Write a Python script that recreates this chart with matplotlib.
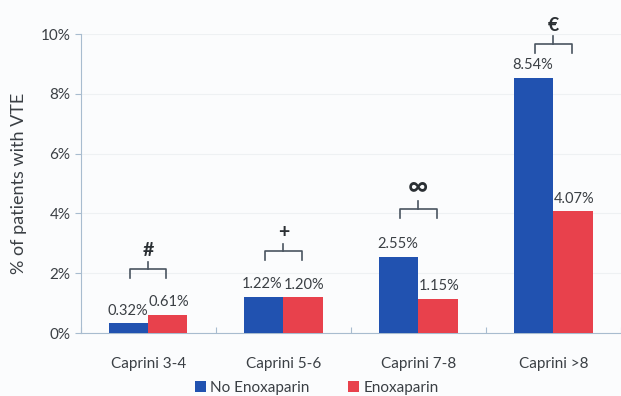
import numpy as np
import matplotlib
matplotlib.use('Agg')
from matplotlib import pyplot as plt
from matplotlib.ticker import FuncFormatter

plt.rcParams['font.family'] = ['Lato', 'DejaVu Sans']

categories = ['Caprini 3-4', 'Caprini 5-6', 'Caprini 7-8', 'Caprini >8']
no_enox = [0.32, 1.22, 2.55, 8.54]
enox = [0.61, 1.20, 1.15, 4.07]
symbols = ['#', '+', '\u221e', '\u20ac']
bracket_y = [2.14, 2.74, 4.15, 9.67]

blue = '#2152b0'
red = '#e8414c'
txt = '#3a3f44'

fig = plt.figure(figsize=(6.21, 3.96), dpi=100)
fig.patch.set_facecolor('#fbfcfd')
ax = fig.add_axes([0.130, 0.159, 0.87, 0.755])
ax.set_facecolor('#fbfcfd')

x = np.arange(len(categories))
w = 0.29
b1 = ax.bar(x - w/2, no_enox, w, color=blue, label='No Enoxaparin', zorder=3)
b2 = ax.bar(x + w/2, enox, w, color=red, label='Enoxaparin', zorder=3)

for i in range(len(categories)):
    ax.text(x[i] - w/2 - 0.01, no_enox[i] + 0.18, '%.2f%%' % no_enox[i], ha='center', va='bottom',
            fontsize=10.5, color=txt)
    ax.text(x[i] + w/2 + 0.01, enox[i] + 0.18, '%.2f%%' % enox[i], ha='center', va='bottom',
            fontsize=10.5, color=txt)
    # bracket
    by = bracket_y[i]
    bx0, bx1 = x[i] - 0.135, x[i] + 0.135
    ax.plot([bx0, bx0, bx1, bx1], [by - 0.3, by, by, by - 0.3], color='#4a5560', lw=1.2,
            zorder=4, clip_on=False)
    ax.plot([x[i], x[i]], [by, by + 0.25], color='#4a5560', lw=1.2, zorder=4, clip_on=False)
    fs = 20 if symbols[i] == '\u221e' else 14
    ax.text(x[i], by + 0.33, symbols[i], ha='center', va='bottom', fontsize=fs,
            color='#2a2f33', fontweight='bold', clip_on=False)

ax.set_xlim(-0.5, 3.5)
ax.set_ylim(0, 10)
ax.set_yticks(np.arange(0, 11, 2))
ax.yaxis.set_major_formatter(FuncFormatter(lambda v, p: '%d%%' % v))
ax.set_xticks(np.arange(-0.5, 4, 1), minor=False)
ax.set_xticklabels([])
ax.set_xticks(x, minor=True)
ax.set_xticklabels(categories, minor=True, fontsize=11, color=txt)
ax.tick_params(axis='x', which='minor', length=0, pad=17)
ax.tick_params(axis='x', which='major', length=4, color='#a8bccf', direction='in')
ax.tick_params(axis='y', length=4, color='#a8bccf', labelsize=11, labelcolor=txt, direction='out')
ax.grid(axis='y', color='#eef1f3', lw=0.8, zorder=0)

for s in ['top', 'right']:
    ax.spines[s].set_visible(False)
ax.spines['left'].set_color('#a8bccf')
ax.spines['bottom'].set_color('#a8bccf')

ax.set_ylabel('% of patients with VTE', fontsize=13, color=txt, labelpad=10)

fig.legend(handles=[b1, b2], loc='center', bbox_to_anchor=(0.51, 0.02), ncol=2,
           frameon=False, fontsize=11, handlelength=0.7, handleheight=0.7,
           columnspacing=2.5, handletextpad=0.3, labelcolor=txt)

fig.savefig('out.png', dpi=100, facecolor=fig.get_facecolor())
